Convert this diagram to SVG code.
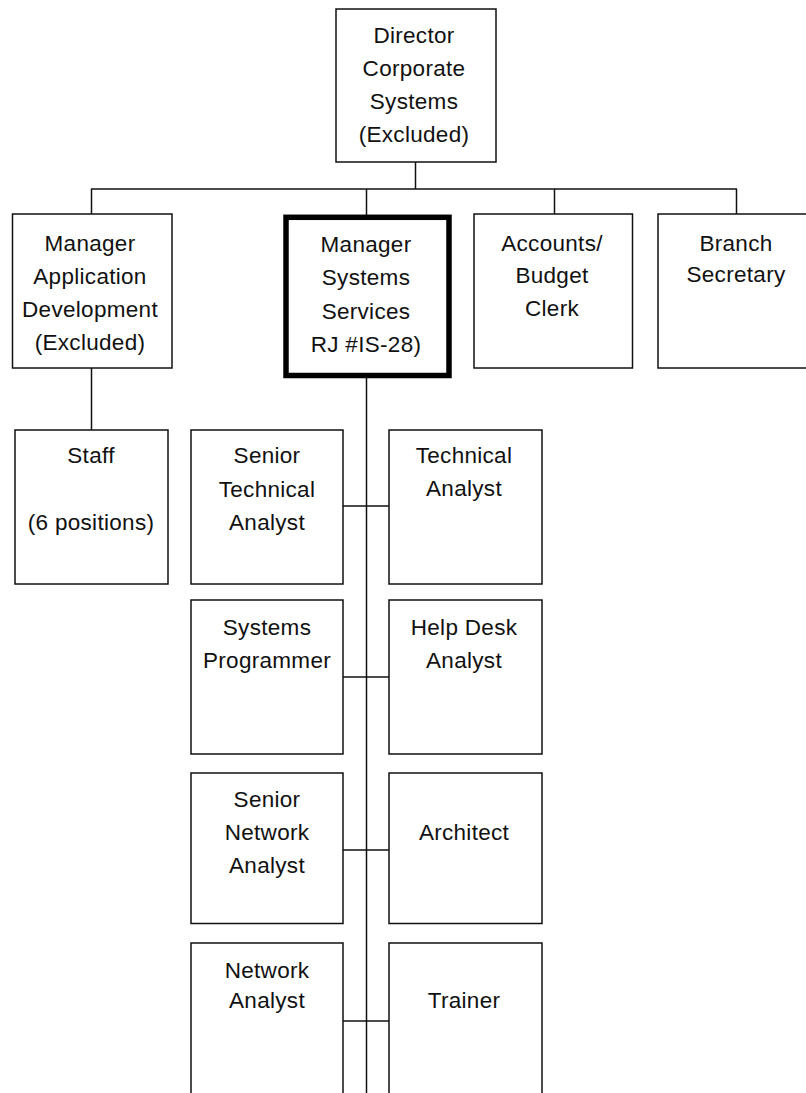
<svg xmlns="http://www.w3.org/2000/svg" width="806" height="1093" viewBox="0 0 806 1093">
<style>
.box{fill:#fff;stroke:#111;stroke-width:1.5}
.thick{fill:#fff;stroke:#000;stroke-width:5.5}
.ln{stroke:#111;stroke-width:1.5;fill:none}
text{font-family:"Liberation Sans",Arial,sans-serif;font-size:22.5px;fill:#111;text-anchor:middle;letter-spacing:0.3px}
</style>
<rect width="806" height="1093" fill="#fff"/>
<g id="connectors">
<line class="ln" x1="415.5" y1="162" x2="415.5" y2="189"/>
<line class="ln" x1="91" y1="189" x2="737" y2="189"/>
<line class="ln" x1="91.5" y1="189" x2="91.5" y2="214"/>
<line class="ln" x1="366.5" y1="189" x2="366.5" y2="215"/>
<line class="ln" x1="554.5" y1="189" x2="554.5" y2="214"/>
<line class="ln" x1="736.5" y1="189" x2="736.5" y2="214"/>
<line class="ln" x1="91.5" y1="368" x2="91.5" y2="430"/>
<line class="ln" x1="366.5" y1="378" x2="366.5" y2="1093"/>
<line class="ln" x1="343" y1="506" x2="389" y2="506"/>
<line class="ln" x1="343" y1="677" x2="389" y2="677"/>
<line class="ln" x1="343" y1="850" x2="389" y2="850"/>
<line class="ln" x1="343" y1="1021" x2="389" y2="1021"/>
</g>
<g id="director">
<rect class="box" x="336" y="9" width="160" height="153"/>
<text x="414" y="43">Director</text>
<text x="414" y="76">Corporate</text>
<text x="414" y="109">Systems</text>
<text x="414" y="142">(Excluded)</text>
</g>
<g id="mgr-appdev">
<rect class="box" x="12.5" y="214" width="159.5" height="154"/>
<text x="90" y="251">Manager</text>
<text x="90" y="284">Application</text>
<text x="90" y="317">Development</text>
<text x="90" y="350">(Excluded)</text>
</g>
<g id="mgr-sysserv">
<rect class="thick" x="286" y="217.3" width="163" height="158.2"/>
<text x="366" y="251.5">Manager</text>
<text x="366" y="285">Systems</text>
<text x="366" y="318.5">Services</text>
<text x="366" y="352">RJ #IS-28)</text>
</g>
<g id="accounts">
<rect class="box" x="474" y="214" width="158.5" height="154"/>
<text x="552" y="251">Accounts/</text>
<text x="552" y="283">Budget</text>
<text x="552" y="316">Clerk</text>
</g>
<g id="branch">
<rect class="box" x="658" y="214" width="160" height="154"/>
<text x="736" y="251">Branch</text>
<text x="736" y="282">Secretary</text>
</g>
<g id="staff">
<rect class="box" x="15" y="430" width="153" height="154"/>
<text x="91" y="463">Staff</text>
<text x="91" y="530">(6 positions)</text>
</g>
<g id="sr-tech">
<rect class="box" x="191" y="430" width="152" height="154"/>
<text x="267" y="463">Senior</text>
<text x="267" y="496.5">Technical</text>
<text x="267" y="530">Analyst</text>
</g>
<g id="tech">
<rect class="box" x="389" y="430" width="153" height="154"/>
<text x="464" y="463">Technical</text>
<text x="464" y="496">Analyst</text>
</g>
<g id="sys-prog">
<rect class="box" x="191" y="600" width="152" height="154"/>
<text x="267" y="635">Systems</text>
<text x="267" y="668">Programmer</text>
</g>
<g id="helpdesk">
<rect class="box" x="389" y="600" width="153" height="154"/>
<text x="464" y="635">Help Desk</text>
<text x="464" y="668">Analyst</text>
</g>
<g id="sr-net">
<rect class="box" x="191" y="773" width="152" height="150.5"/>
<text x="267" y="806.5">Senior</text>
<text x="267" y="840">Network</text>
<text x="267" y="872.5">Analyst</text>
</g>
<g id="architect">
<rect class="box" x="389" y="773" width="153" height="150.5"/>
<text x="464" y="840">Architect</text>
</g>
<g id="net-analyst">
<rect class="box" x="191" y="943" width="152" height="160"/>
<text x="267" y="978">Network</text>
<text x="267" y="1008">Analyst</text>
</g>
<g id="trainer">
<rect class="box" x="389" y="943" width="153" height="160"/>
<text x="464" y="1008">Trainer</text>
</g>
</svg>
